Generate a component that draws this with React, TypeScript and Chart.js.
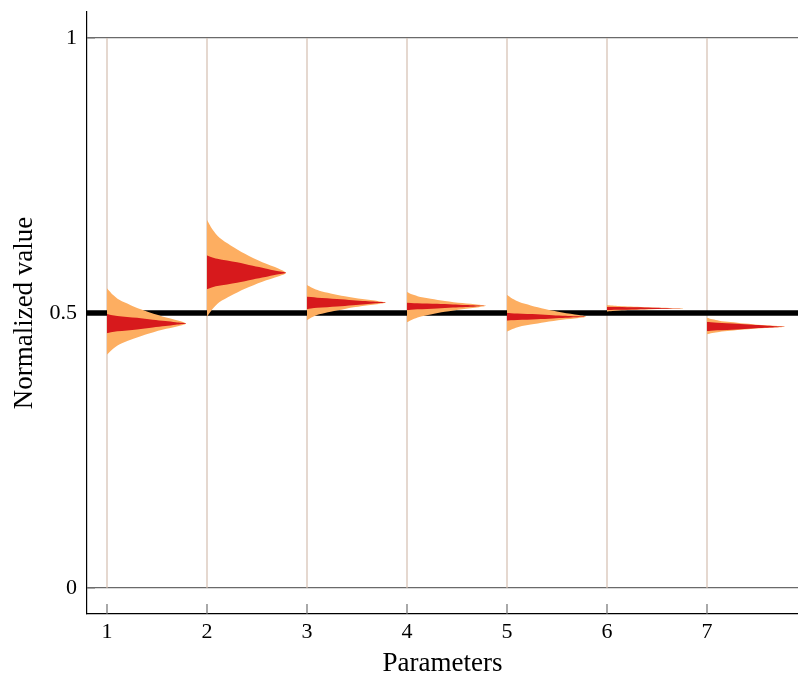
import React, { useEffect, useRef } from 'react';
import { Chart, registerables } from 'chart.js';

Chart.register(...registerables);

// ---- data ----
const PARAMETERS = [1, 2, 3, 4, 5, 6, 7];
const X_TICKS = [1, 2, 3, 4, 5, 6, 7];
const Y_TICKS = [0, 0.5, 1];
const Y_TICK_LABELS = ['0', '0.5', '1'];

// mode (peak) of each density
const MODE = [0.481, 0.573, 0.519, 0.513, 0.493, 0.5085, 0.475];
// outer (orange) band limits
const OUTER_LOW = [0.424, 0.493, 0.487, 0.483, 0.466, 0.5025, 0.461];
const OUTER_HIGH = [0.545, 0.669, 0.551, 0.538, 0.533, 0.5145, 0.4915];
// inner (red) band limits
const INNER_LOW = [0.463, 0.543, 0.507, 0.505, 0.486, 0.505, 0.467];
const INNER_HIGH = [0.498, 0.605, 0.53, 0.519, 0.5005, 0.5115, 0.484];
// horizontal extent of the peak (in x units)
const PEAK_WIDTH = [0.79, 0.79, 0.79, 0.79, 0.79, 0.78, 0.78];

// shape profiles (fraction of band half-extent -> fraction of peak width)
const OUTER_PROFILE_T = [0, 0.08, 0.2, 0.36, 0.52, 0.67, 0.82, 0.92, 1];
const OUTER_PROFILE_W = [1, 0.91, 0.7, 0.48, 0.3, 0.155, 0.07, 0.03, 0];
const INNER_PROFILE_T = [0, 0.12, 0.25, 0.4, 0.6, 0.8, 0.9, 1];
const INNER_PROFILE_W = [1, 0.87, 0.74, 0.58, 0.38, 0.13, 0.05, 0];

const REFERENCE_VALUE = 0.5;
const X_MIN = 0.8;
const X_MAX = 7.91;
const Y_MIN = -0.0473;
const Y_MAX = 1.0473;

const ORANGE = 'rgb(253,174,97)';
const RED = 'rgb(215,25,28)';
const STEM = 'rgb(212,190,176)';

function violinPoints(i: number, lo: number, hi: number, T: number[], W: number[]) {
  const x0 = PARAMETERS[i];
  const m = MODE[i];
  const pw = PEAK_WIDTH[i];
  const pts: { x: number; y: number }[] = [];
  for (let k = T.length - 1; k >= 0; k--) pts.push({ x: x0 + pw * W[k], y: m - T[k] * (m - lo) });
  for (let k = 1; k < T.length; k++) pts.push({ x: x0 + pw * W[k], y: m + T[k] * (hi - m) });
  return pts;
}

const tickMarks = {
  id: 'tickMarks',
  beforeDatasetsDraw(chart: any) {
    const { ctx, scales, chartArea } = chart;
    const x = scales.x;
    const y = scales.y;
    ctx.save();
    ctx.strokeStyle = '#707070';
    ctx.lineWidth = 1.2;
    ctx.beginPath();
    for (const v of X_TICKS) {
      const px = x.getPixelForValue(v);
      ctx.moveTo(px, chartArea.bottom);
      ctx.lineTo(px, chartArea.bottom - 10);
    }
    for (const v of Y_TICKS) {
      const py = y.getPixelForValue(v);
      ctx.moveTo(chartArea.left, py);
      ctx.lineTo(chartArea.left + 8, py);
    }
    ctx.stroke();
    ctx.restore();
  },
};

export default function App() {
  const ref = useRef<HTMLCanvasElement | null>(null);

  useEffect(() => {
    if (!ref.current) return;
    const datasets: any[] = [];
    PARAMETERS.forEach((p, i) => {
      datasets.push({
        data: violinPoints(i, INNER_LOW[i], INNER_HIGH[i], INNER_PROFILE_T, INNER_PROFILE_W),
        backgroundColor: RED,
        borderColor: 'rgba(0,0,0,0)',
        borderWidth: 0,
        pointRadius: 0,
        tension: 0.3,
        fill: { value: p },
        order: 0,
      });
      datasets.push({
        data: violinPoints(i, OUTER_LOW[i], OUTER_HIGH[i], OUTER_PROFILE_T, OUTER_PROFILE_W),
        backgroundColor: ORANGE,
        borderColor: 'rgba(0,0,0,0)',
        borderWidth: 0,
        pointRadius: 0,
        tension: 0.3,
        fill: { value: p },
        order: 1,
      });
      datasets.push({
        data: [
          { x: p, y: Y_TICKS[0] },
          { x: p, y: Y_TICKS[2] },
        ],
        borderColor: STEM,
        borderWidth: 1.2,
        pointRadius: 0,
        fill: false,
        order: 3,
      });
    });
    datasets.push({
      data: [
        { x: X_MIN, y: REFERENCE_VALUE },
        { x: X_MAX, y: REFERENCE_VALUE },
      ],
      borderColor: '#000',
      borderWidth: 5.5,
      pointRadius: 0,
      fill: false,
      order: 2,
    });

    Chart.defaults.font.family = '"Liberation Serif", "Times New Roman", serif';
    Chart.defaults.color = '#000';

    const chart = new Chart(ref.current, {
      type: 'line',
      data: { datasets },
      options: {
        indexAxis: 'y',
        animation: false,
        responsive: false,
        layout: { padding: { top: 12, right: 0, bottom: 0, left: 0 } },
        plugins: { legend: { display: false }, tooltip: { enabled: false } },
        events: [],
        scales: {
          x: {
            type: 'linear',
            position: 'bottom',
            min: X_MIN,
            max: X_MAX,
            afterBuildTicks: (s: any) => {
              s.ticks = X_TICKS.map((v) => ({ value: v }));
            },
            afterFit: (s: any) => {
              s.height = 67;
              s.paddingLeft = 0;
              s.paddingRight = 0;
            },
            ticks: {
              padding: 5,
              font: { size: 22 },
              color: '#000',
              callback: (v: any) => String(v),
            },
            grid: { display: false, drawTicks: false },
            border: { display: true, color: '#000', width: 1.2 },
            title: {
              display: true,
              text: 'Parameters',
              font: { size: 27 },
              color: '#000',
              padding: { top: 0, bottom: 1 },
            },
          },
          y: {
            type: 'linear',
            position: 'left',
            min: Y_MIN,
            max: Y_MAX,
            afterBuildTicks: (s: any) => {
              s.ticks = Y_TICKS.map((v) => ({ value: v }));
            },
            afterFit: (s: any) => {
              s.width = 87;
              s.paddingTop = 0;
              s.paddingBottom = 0;
            },
            ticks: {
              padding: 10,
              font: { size: 22 },
              color: '#000',
              callback: (v: any) => {
                const idx = Y_TICKS.indexOf(Number(v));
                return idx >= 0 ? Y_TICK_LABELS[idx] : '';
              },
            },
            grid: { color: '#6a6a6a', lineWidth: 1.2, drawTicks: false },
            border: { display: true, color: '#000', width: 1.2 },
            title: {
              display: true,
              text: 'Normalized value',
              font: { size: 27 },
              color: '#000',
              padding: { top: 9, bottom: 0 },
            },
          },
        },
      },
      plugins: [tickMarks],
    } as any);
    return () => chart.destroy();
  }, []);

  return (
    <div style={{ position: 'fixed', left: 0, top: 0, width: 798, height: 681 }}>
      <canvas ref={ref} width={798} height={681} style={{ display: 'block', width: 798, height: 681 }} />
    </div>
  );
}
